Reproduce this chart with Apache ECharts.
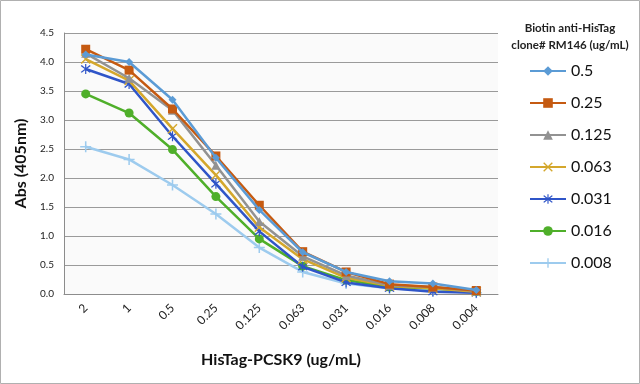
<!DOCTYPE html>
<html><head><meta charset="utf-8">
<script src="https://cdn.jsdelivr.net/npm/echarts@6/dist/echarts.min.js"></script>
<style>html,body{margin:0;padding:0;background:#fff}#c{width:640px;height:384px}</style>
</head><body><div id="c"></div>
<script>
const categories = ['2','1','0.5','0.25','0.125','0.063','0.031','0.016','0.008','0.004'];
const seriesNames = ['0.5','0.25','0.125','0.063','0.031','0.016','0.008'];
const s05   = [4.13, 4.00, 3.35, 2.35, 1.45, 0.72, 0.38, 0.22, 0.18, 0.07];
const s025  = [4.22, 3.86, 3.19, 2.38, 1.53, 0.73, 0.38, 0.17, 0.12, 0.06];
const s0125 = [4.15, 3.72, 3.17, 2.22, 1.25, 0.65, 0.32, 0.15, 0.12, 0.05];
const s0063 = [4.05, 3.68, 2.85, 2.05, 1.15, 0.60, 0.28, 0.14, 0.10, 0.04];
const s0031 = [3.88, 3.62, 2.72, 1.90, 1.08, 0.47, 0.20, 0.10, 0.04, 0.02];
const s0016 = [3.45, 3.12, 2.49, 1.68, 0.95, 0.48, 0.24, 0.12, 0.10, 0.04];
const s0008 = [2.54, 2.32, 1.88, 1.38, 0.80, 0.38, 0.18, 0.10, 0.06, 0.02];
const allData = [s05, s025, s0125, s0063, s0031, s0016, s0008];
const colors = ['#5B9BD5','#C55A11','#929292','#D4A72C','#2F55C8','#4FAF2A','#9DCBEE'];
const plusPath = 'path://M4.3,0H5.7V4.3H10V5.7H5.7V10H4.3V5.7H0V4.3H4.3Z';
const xPath = 'path://M1,0L5,4L9,0L10,1L6,5L10,9L9,10L5,6L1,10L0,9L4,5L0,1Z';
const starPath = 'path://M1,0L5,4L9,0L10,1L6,5L10,9L9,10L5,6L1,10L0,9L4,5L0,1ZM4.4,-1.5H5.6V11.5H4.4Z';
const symbols = ['diamond','rect','triangle',xPath,starPath,'circle',plusPath];
const sizes = [8,9,9,10,10,9,11];
const FONT = 'Lato';

const chart = echarts.init(document.getElementById('c'));
chart.setOption({
  backgroundColor: '#ffffff',
  animation: false,
  textStyle: {fontFamily: FONT},
  graphic: [
    {type:'rect', shape:{x:0.5,y:0.5,width:639,height:383}, style:{fill:'none', stroke:'#b0b0b0', lineWidth:1}, z:-1},
    {type:'text', x:570, y:20, style:{text:'Biotin anti-HisTag\nclone# RM146 (ug/mL)', fontWeight:'bold', fontSize:11.5, fontFamily:FONT, fill:'#222', align:'center', lineHeight:17}}
  ],
  grid: {left:64, right:142, top:33, bottom:90, show:true, backgroundColor:'#fafafa', borderWidth:0},
  legend: {
    orient:'vertical', left:524, top:58, itemWidth:36, itemHeight:12, itemGap:16,
    textStyle:{fontSize:16, color:'#111', fontFamily:FONT},
    data: seriesNames
  },
  xAxis: {
    type:'category', data:categories, boundaryGap:true,
    axisLine:{lineStyle:{color:'#8c8c8c', width:1}},
    axisTick:{show:false},
    axisLabel:{rotate:45, fontSize:12, color:'#222', margin:12, fontFamily:FONT},
    name:'HisTag-PCSK9 (ug/mL)', nameLocation:'middle', nameGap:58,
    nameTextStyle:{fontSize:16, fontWeight:'bold', color:'#111', fontFamily:FONT}
  },
  yAxis: {
    type:'value', min:0, max:4.5, interval:0.5,
    axisLine:{show:true, lineStyle:{color:'#8c8c8c'}},
    axisTick:{show:false},
    axisLabel:{fontSize:10, color:'#222', formatter:v=>v.toFixed(1), margin:10, fontFamily:FONT},
    splitLine:{lineStyle:{color:'#9a9a9a', width:1}},
    name:'Abs (405nm)', nameLocation:'middle', nameGap:25,
    nameTextStyle:{fontSize:16, fontWeight:'bold', color:'#111', fontFamily:FONT}
  },
  series: seriesNames.map((n,i)=>({
    name:n, type:'line', data:allData[i],
    symbol:symbols[i], symbolSize:sizes[i], showAllSymbol:true,
    lineStyle:{color:colors[i], width:2.5},
    itemStyle:{color:colors[i]},
    z: 10 - i
  }))
});
</script></body></html>
